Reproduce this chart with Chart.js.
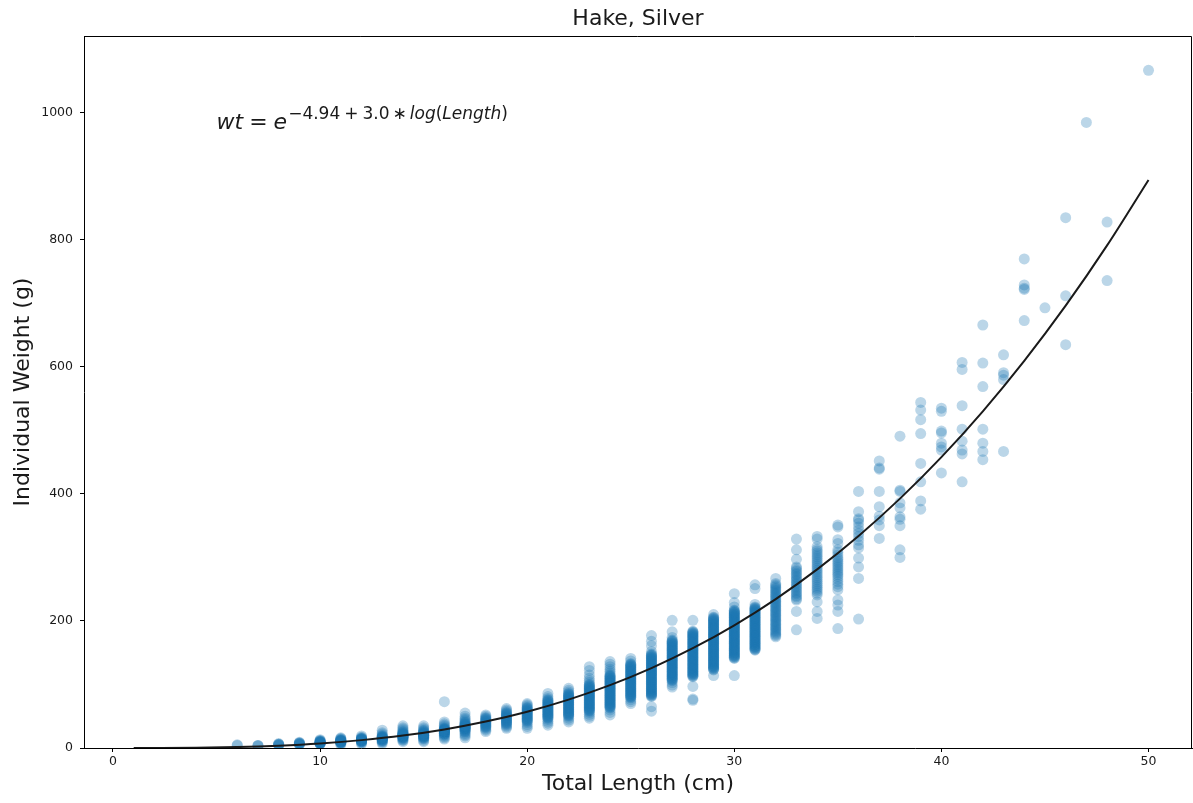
<!DOCTYPE html>
<html>
<head>
<meta charset="utf-8">
<script src="https://cdn.jsdelivr.net/npm/chart.js@4/dist/chart.umd.min.js"></script>
<style>
  html, body { margin: 0; padding: 0; background: #fff; }
  #wrap { width: 1193px; height: 803px; }
</style>
</head>
<body>
<div id="wrap"><canvas id="chart" width="1193" height="803"></canvas></div>
<script>
// total length (cm) of each measured group
const lengths = [6, 7, 8, 9, 10, 11, 12, 13, 14, 15, 16, 17, 18, 19, 20, 21, 22, 23, 24, 25,
    26, 27, 28, 29, 30, 31, 32, 33, 34, 35, 36, 37, 38, 39, 40, 41, 42, 43, 44, 45, 46, 47, 48, 50];

// individual weights (g), one list per length
const weightsByLength = [
    [4, 5],
    [3, 4, 4],
    [4, 5, 5, 6, 6, 7],
    [5, 6, 6, 7, 7, 8, 8, 9],
    [6, 7, 7, 7, 8, 8, 8, 8, 9, 9, 9, 9, 10, 10, 10, 11, 11, 12, 13],
    [5, 7, 8, 8, 9, 9, 9, 10, 10, 10, 10, 11, 11, 11, 11, 12, 12, 12, 13, 13, 14, 15, 16],
    [6, 8, 9, 10, 10, 11, 11, 11, 12, 12, 12, 12, 13, 13, 13, 13, 14, 14, 14, 15, 15, 16, 17, 19],
    [7, 9, 10, 11, 12, 12, 13, 13, 14, 14, 14, 15, 15, 15, 16, 16, 16, 17, 17, 18, 18, 19, 20, 22, 24, 28],
    [10, 12, 13, 14, 15, 16, 16, 17, 17, 18, 18, 19, 19, 19, 20, 20, 20, 21, 21, 21, 22, 22, 23, 23, 24, 25, 26,
        28, 30, 32, 35],
    [10, 12, 14, 15, 16, 17, 17, 18, 18, 19, 19, 20, 20, 20, 21, 21, 21, 22, 22, 22, 23, 23, 24, 24, 25, 26, 27,
        28, 30, 32, 35],
    [14, 16, 18, 20, 21, 22, 23, 23, 24, 24, 25, 25, 26, 26, 26, 27, 27, 27, 28, 28, 29, 29, 30, 30, 31, 32, 34,
        36, 38, 41, 73],
    [16, 19, 21, 23, 25, 26, 27, 28, 29, 30, 30, 31, 31, 32, 32, 33, 33, 34, 34, 35, 35, 36, 36, 37, 37, 38, 39,
        40, 41, 43, 45, 47, 50, 55],
    [26, 28, 30, 32, 33, 34, 35, 36, 37, 38, 39, 40, 41, 42, 43, 44, 45, 46, 47, 48, 50, 52],
    [31, 33, 35, 37, 38, 39, 40, 41, 42, 43, 44, 45, 46, 47, 48, 49, 50, 51, 52, 53, 54, 55, 56, 58, 60, 62],
    [31, 34, 37, 40, 42, 43, 44, 45, 46, 47, 48, 49, 50, 51, 52, 53, 54, 55, 56, 57, 58, 59, 60, 61, 62, 63, 64,
        66, 68, 70],
    [36, 39, 42, 45, 47, 48, 49, 50, 51, 52, 53, 54, 55, 56, 57, 58, 59, 60, 61, 62, 63, 64, 65, 66, 67, 68, 69,
        70, 71, 72, 73, 74, 75, 76, 78, 81, 86],
    [41, 44, 47, 50, 51, 52, 53, 54, 55, 56, 57, 58, 59, 60, 61, 62, 63, 64, 65, 66, 67, 68, 69, 70, 71, 72, 73,
        74, 75, 76, 77, 78, 79, 80, 81, 82, 83, 84, 85, 86, 88, 91, 94],
    [47, 50, 53, 56, 58, 59, 60, 61, 62, 63, 64, 65, 66, 67, 68, 69, 70, 71, 72, 73, 74, 75, 76, 77, 78, 79, 80,
        81, 82, 83, 84, 85, 86, 87, 88, 89, 90, 91, 92, 93, 94, 95, 96, 97, 98, 99, 100, 103, 106, 110, 115,
        122, 128],
    [52, 56, 60, 63, 64, 65, 66, 67, 68, 69, 70, 71, 72, 73, 74, 75, 76, 77, 78, 79, 80, 81, 82, 83, 84, 85, 86,
        87, 88, 89, 90, 91, 92, 93, 94, 95, 96, 97, 98, 99, 100, 101, 102, 103, 104, 105, 106, 107, 108, 109,
        110, 111, 112, 113, 114, 115, 118, 121, 124, 128, 132, 136],
    [70, 73, 76, 79, 80, 81, 82, 83, 84, 85, 86, 87, 88, 89, 90, 91, 92, 93, 94, 95, 96, 97, 98, 99, 100, 101,
        102, 103, 104, 105, 106, 107, 108, 109, 110, 111, 112, 113, 114, 115, 116, 117, 118, 119, 120, 121,
        122, 123, 124, 125, 126, 127, 128, 129, 130, 131, 132, 133, 137, 141],
    [58, 65, 81, 82, 83, 84, 85, 86, 87, 88, 89, 90, 91, 92, 93, 94, 95, 96, 97, 98, 99, 100, 101, 102, 103, 104,
        105, 106, 107, 108, 109, 110, 111, 112, 113, 114, 115, 116, 117, 118, 119, 120, 121, 122, 123, 124, 125,
        126, 127, 128, 129, 130, 131, 132, 133, 134, 135, 136, 137, 138, 139, 140, 141, 142, 143, 144, 145,
        146, 147, 148, 152, 161, 168, 177],
    [96, 99, 103, 106, 107, 108, 109, 110, 111, 112, 113, 114, 115, 116, 117, 118, 119, 120, 121, 122, 123, 124,
        125, 126, 127, 128, 129, 130, 131, 132, 133, 134, 135, 136, 137, 138, 139, 140, 141, 142, 143, 144, 145,
        146, 147, 148, 149, 150, 151, 152, 153, 154, 155, 156, 157, 158, 159, 160, 161, 162, 163, 164, 165,
        166, 167, 168, 169, 170, 174, 183, 201],
    [75, 77, 97, 112, 113, 114, 115, 116, 117, 118, 119, 120, 121, 122, 123, 124, 125, 126, 127, 128, 129, 130,
        131, 132, 133, 134, 135, 136, 137, 138, 139, 140, 141, 142, 143, 144, 145, 146, 147, 148, 149, 150, 151,
        152, 153, 154, 155, 156, 157, 158, 159, 160, 161, 162, 163, 164, 165, 166, 167, 168, 169, 170, 171,
        172, 173, 174, 175, 176, 177, 178, 179, 180, 181, 182, 183, 184, 201],
    [114, 123, 124, 125, 126, 127, 128, 129, 130, 131, 132, 133, 134, 135, 136, 137, 138, 139, 140, 141, 142,
        143, 144, 145, 146, 147, 148, 149, 150, 151, 152, 153, 154, 155, 156, 157, 158, 159, 160, 161, 162, 163,
        164, 165, 166, 167, 168, 169, 170, 171, 172, 173, 174, 175, 176, 177, 178, 179, 180, 181, 182, 183, 184,
        185, 186, 187, 188, 189, 190, 191, 192, 193, 194, 195, 196, 197, 198, 199, 200, 201, 202, 203, 204, 205,
        206, 210],
    [114, 141, 142, 143, 144, 145, 146, 147, 148, 149, 150, 151, 152, 153, 154, 155, 156, 157, 158, 159, 160, 161,
        162, 163, 164, 165, 166, 167, 168, 169, 170, 171, 172, 173, 174, 175, 176, 177, 178, 179, 180, 181, 182,
        183, 184, 185, 186, 187, 188, 189, 190, 191, 192, 193, 194, 195, 196, 197, 198, 199, 200, 201, 202, 203,
        204, 205, 206, 207, 208, 209, 210, 211, 212, 213, 214, 215, 216, 217, 222, 229, 243],
    [154, 155, 156, 157, 158, 159, 160, 161, 162, 163, 164, 165, 166, 167, 168, 169, 170, 171, 172, 173, 174, 175,
        176, 177, 178, 179, 180, 181, 182, 183, 184, 185, 186, 187, 188, 189, 190, 191, 192, 193, 194, 195, 196,
        197, 198, 199, 200, 201, 202, 203, 204, 205, 206, 207, 208, 209, 210, 211, 212, 213, 214, 215, 216, 217,
        218, 219, 220, 221, 222, 226, 251, 257],
    [175, 177, 179, 181, 183, 185, 187, 189, 191, 193, 195, 197, 199, 201, 203, 205, 207, 209, 211, 213, 215, 217,
        219, 221, 223, 225, 227, 229, 231, 233, 235, 237, 239, 241, 243, 245, 247, 249, 251, 253, 255, 257, 259,
        267],
    [186, 215, 233, 235, 238, 240, 243, 245, 248, 250, 253, 255, 258, 260, 263, 265, 268, 270, 273, 275, 278, 280,
        283, 285, 297, 312, 329],
    [204, 215, 230, 241, 244, 247, 250, 253, 256, 259, 262, 265, 268, 271, 274, 277, 280, 283, 286, 289, 292, 295,
        298, 301, 304, 307, 310, 313, 317, 329, 333],
    [188, 215, 225, 233, 249, 254, 258, 262, 266, 270, 273, 276, 279, 282, 285, 288, 291, 294, 297, 300, 304,
        308, 312, 322, 328, 348, 351],
    [203, 267, 285, 299, 315, 320, 327, 333, 338, 343, 348, 354, 359, 361, 372, 404],
    [330, 350, 359, 365, 380, 404, 439, 441, 452],
    [300, 312, 350, 360, 364, 378, 386, 404, 406, 491],
    [376, 389, 419, 448, 495, 517, 532, 544],
    [433, 469, 474, 480, 496, 499, 530, 535],
    [419, 463, 469, 483, 502, 539, 596, 607],
    [454, 467, 480, 502, 569, 606, 666],
    [467, 580, 587, 591, 619],
    [673, 722, 724, 729, 770],
    [693],
    [635, 712, 835],
    [985],
    [736, 828],
    [1067]
];

// fitted curve
const curveLengths = [1, 2, 4, 6, 8, 10, 12, 14, 16, 18, 20, 22, 24, 26, 28, 30, 32, 34, 36, 38, 40, 42, 44, 46, 48, 50];
const curveWeights = [0.0, 0.1, 0.5, 1.5, 3.7, 7.2, 12.4, 19.6, 29.3, 41.7, 57.2, 76.2, 98.9, 125.8, 157.1, 193.2,
    234.5, 281.2, 333.8, 392.6, 457.9, 530.1, 609.5, 696.4, 791.3, 894.4];

const xTicks = [0, 10, 20, 30, 40, 50];
const yTicks = [0, 200, 400, 600, 800, 1000];

const points = lengths.flatMap((len, i) => weightsByLength[i].map(w => ({ x: len, y: w })));
const curve = curveLengths.map((len, i) => ({ x: len, y: curveWeights[i] }));

const FONT = "'DejaVu Sans', 'Liberation Sans', sans-serif";

const decorations = {
    id: 'decorations',
    afterDatasetsDraw(chart) {
        const { ctx, chartArea: a, scales: { x, y } } = chart;
        ctx.save();
        // top and right spines
        ctx.strokeStyle = '#000';
        ctx.lineWidth = 1;
        ctx.beginPath();
        ctx.moveTo(a.left, a.top + 0.5);
        ctx.lineTo(a.right - 0.5, a.top + 0.5);
        ctx.lineTo(a.right - 0.5, a.bottom);
        ctx.stroke();

        ctx.fillStyle = '#1a1a1a';
        ctx.textBaseline = 'middle';
        ctx.textAlign = 'center';
        ctx.font = '22px ' + FONT;
        ctx.fillText('Hake, Silver', (a.left + a.right) / 2, 19);
        ctx.fillText('Total Length (cm)', (a.left + a.right) / 2, 784);
        ctx.save();
        ctx.translate(23, (a.top + a.bottom) / 2);
        ctx.rotate(-Math.PI / 2);
        ctx.fillText('Individual Weight (g)', 0, 0);
        ctx.restore();

        // fit equation, placed in data space
        let px = x.getPixelForValue(5);
        const base = y.getPixelForValue(975);
        const sup = base - 10;
        ctx.textAlign = 'left';
        ctx.textBaseline = 'alphabetic';
        const part = (txt, font, yy, gap) => {
            ctx.font = font;
            ctx.fillText(txt, px, yy);
            px += ctx.measureText(txt).width + (gap || 0);
        };
        part('wt', 'italic 22px ' + FONT, base, 6);
        part('=', '22px ' + FONT, base, 6);
        part('e', 'italic 22px ' + FONT, base, 1);
        part('\u22124.94', '17px ' + FONT, sup, 4);
        part('+', '17px ' + FONT, sup, 4);
        part('3.0', '17px ' + FONT, sup, 3);
        part('\u2217', '17px ' + FONT, sup, 3);
        part('log', 'italic 17px ' + FONT, sup, 0);
        part('(', '17px ' + FONT, sup, 0);
        part('Length', 'italic 17px ' + FONT, sup, 0);
        part(')', '17px ' + FONT, sup, 0);
        ctx.restore();
    }
};

new Chart(document.getElementById('chart'), {
    type: 'scatter',
    data: {
        datasets: [{
            label: 'fit',
            data: curve,
            showLine: true,
            borderColor: '#1a1a1a',
            borderWidth: 2,
            pointRadius: 0,
            cubicInterpolationMode: 'monotone',
            order: 0
        }, {
            label: 'weights',
            data: points,
            backgroundColor: 'rgba(31, 119, 180, 0.3)',
            borderWidth: 0,
            pointRadius: 5.5,
            order: 1
        }]
    },
    options: {
        responsive: false,
        animation: false,
        devicePixelRatio: 1,
        layout: { autoPadding: false, padding: { top: 36, right: 1, left: 0, bottom: 0 } },
        plugins: {
            legend: { display: false },
            tooltip: { enabled: false },
            title: { display: false }
        },
        scales: {
            x: {
                type: 'linear',
                min: -1.4,
                max: 52.1,
                afterBuildTicks: s => { s.ticks = xTicks.map(v => ({ value: v })); },
                afterFit: s => { s.height = 55; },
                grid: { drawOnChartArea: false, drawTicks: true, tickLength: 4, color: '#000' },
                border: { display: true, color: '#000', width: 1 },
                ticks: { color: '#1a1a1a', padding: 2, maxRotation: 0, font: { family: FONT, size: 12.5 },
                    callback: v => String(v) }
            },
            y: {
                type: 'linear',
                min: 0,
                max: 1121,
                afterBuildTicks: s => { s.ticks = yTicks.map(v => ({ value: v })); },
                afterFit: s => { s.width = 84; },
                grid: { drawOnChartArea: false, drawTicks: true, tickLength: 4, color: '#000' },
                border: { display: true, color: '#000', width: 1 },
                ticks: { color: '#1a1a1a', padding: 7, font: { family: FONT, size: 12.5 },
                    callback: v => String(v) }
            }
        }
    },
    plugins: [decorations]
});
</script>
</body>
</html>
